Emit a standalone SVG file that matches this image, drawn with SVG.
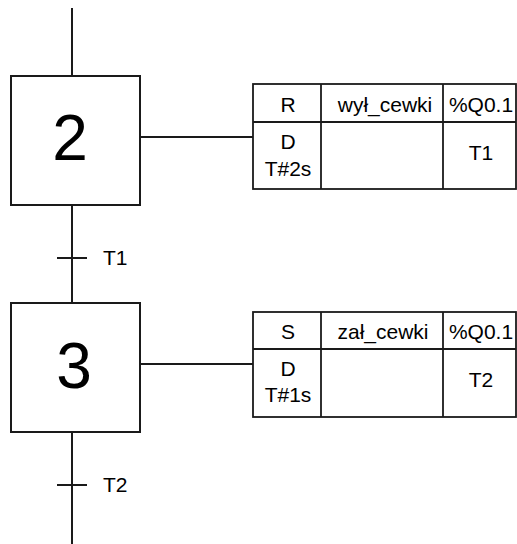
<svg xmlns="http://www.w3.org/2000/svg" width="517" height="544" viewBox="0 0 517 544">
<style>
.ln{stroke:#1a1a1a;stroke-width:2;fill:none}
.box{stroke:#1a1a1a;stroke-width:2;fill:#fff}
.tb{stroke:#1a1a1a;stroke-width:1.8;fill:#fff}
.t{font-family:"Liberation Sans",Arial,sans-serif;font-size:21px;fill:#000}
.m{text-anchor:middle}
.big{font-family:"Liberation Sans",Arial,sans-serif;font-size:64px;fill:#000;text-anchor:middle}
</style>
<rect width="517" height="544" fill="#fff"/>
<g id="connectors">
<line class="ln" x1="72" y1="8" x2="72" y2="76"/>
<line class="ln" x1="72" y1="205" x2="72" y2="303"/>
<line class="ln" x1="72" y1="432" x2="72" y2="544"/>
<line class="ln" x1="140" y1="137" x2="253" y2="137"/>
<line class="ln" x1="140" y1="364" x2="253" y2="364"/>
</g>
<g id="transition-T1">
<line class="ln" x1="57" y1="258" x2="87" y2="258"/>
<text class="t" x="103" y="265">T1</text>
</g>
<g id="transition-T2">
<line class="ln" x1="57" y1="485" x2="87" y2="485"/>
<text class="t" x="103" y="492">T2</text>
</g>
<g id="step-2">
<rect class="box" x="11" y="76" width="129" height="129"/>
<text class="big" x="70" y="160">2</text>
</g>
<g id="step-3">
<rect class="box" x="11" y="303" width="129" height="129"/>
<text class="big" x="74" y="388">3</text>
</g>
<g id="action-2">
<rect class="tb" x="253" y="84" width="263" height="105"/>
<line class="tb" x1="253" y1="122" x2="516" y2="122"/>
<line class="tb" x1="321" y1="84" x2="321" y2="189"/>
<line class="tb" x1="443" y1="84" x2="443" y2="189"/>
<text class="t m" x="288" y="112">R</text>
<text class="t m" x="385" y="112">wył_cewki</text>
<text class="t m" x="481" y="112">%Q0.1</text>
<text class="t m" x="288" y="149">D</text>
<text class="t m" x="288" y="176">T#2s</text>
<text class="t m" x="481" y="160">T1</text>
</g>
<g id="action-3">
<rect class="tb" x="253" y="312" width="263" height="105"/>
<line class="tb" x1="253" y1="349" x2="516" y2="349"/>
<line class="tb" x1="321" y1="312" x2="321" y2="417"/>
<line class="tb" x1="443" y1="312" x2="443" y2="417"/>
<text class="t m" x="288" y="339">S</text>
<text class="t m" x="383" y="339">zał_cewki</text>
<text class="t m" x="481" y="339">%Q0.1</text>
<text class="t m" x="288" y="376">D</text>
<text class="t m" x="288" y="402">T#1s</text>
<text class="t m" x="481" y="387">T2</text>
</g>
</svg>
